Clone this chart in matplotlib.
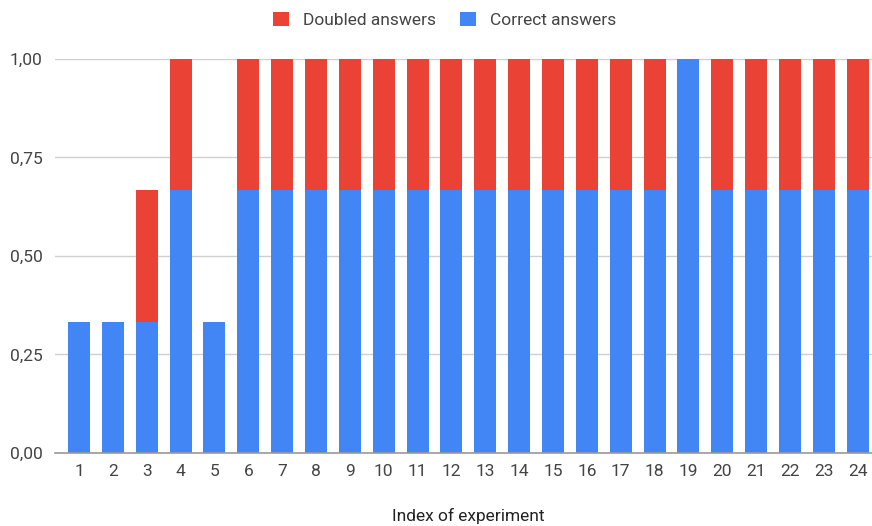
import numpy as np
import matplotlib.pyplot as plt
from matplotlib.patches import Patch

# experiment indices and stacked shares
experiments = list(range(1, 25))
correct = [1/3, 1/3, 1/3, 2/3, 1/3] + [2/3] * 13 + [1.0] + [2/3] * 5
doubled = [0, 0, 1/3, 1/3, 0] + [1/3] * 13 + [0] + [1/3] * 5
y_ticks = [0, 0.25, 0.5, 0.75, 1.0]
y_tick_labels = ['0,00', '0,25', '0,50', '0,75', '1,00']

blue = '#4285F4'
red = '#EA4335'

plt.rcParams['font.family'] = ['Roboto', 'DejaVu Sans']

fig = plt.figure(figsize=(8.72, 5.26), dpi=100)
ax = fig.add_axes([0.063, 0.139, 0.937, 0.749])

ax.bar(experiments, correct, width=0.65, color=blue, zorder=2)
ax.bar(experiments, doubled, width=0.65, bottom=correct, color=red, zorder=2)

ax.set_xlim(0.29, 24.42)
ax.set_ylim(0, 1.0)
ax.set_xticks(experiments)
ax.set_xticklabels([str(e) for e in experiments])
ax.set_yticks(y_ticks)
ax.set_yticklabels(y_tick_labels)
ax.tick_params(length=0, labelsize=12.5, colors='#444444', pad=9)
ax.tick_params(axis='x', pad=8)
ax.grid(axis='y', color='#d0d0d0', linewidth=1, zorder=0)
for side in ['top', 'right', 'left']:
    ax.spines[side].set_visible(False)
ax.spines['bottom'].set_color('#999999')
ax.spines['bottom'].set_linewidth(1.2)
ax.spines['bottom'].set_zorder(3)

# axis title sits right at the lower edge
fig.text(0.537, 0.009, 'Index of experiment', ha='center', va='baseline',
         fontsize=12.5, color='#222222')

handles = [Patch(facecolor=red, label='Doubled answers'),
           Patch(facecolor=blue, label='Correct answers')]
fig.legend(handles=handles, loc='center', bbox_to_anchor=(0.51, 0.962), ncol=2,
           frameon=False, fontsize=12.5, handlelength=0.9, handleheight=0.9,
           handletextpad=0.8, columnspacing=1.4, labelcolor='#444444')

fig.savefig('out.png', dpi=100)
